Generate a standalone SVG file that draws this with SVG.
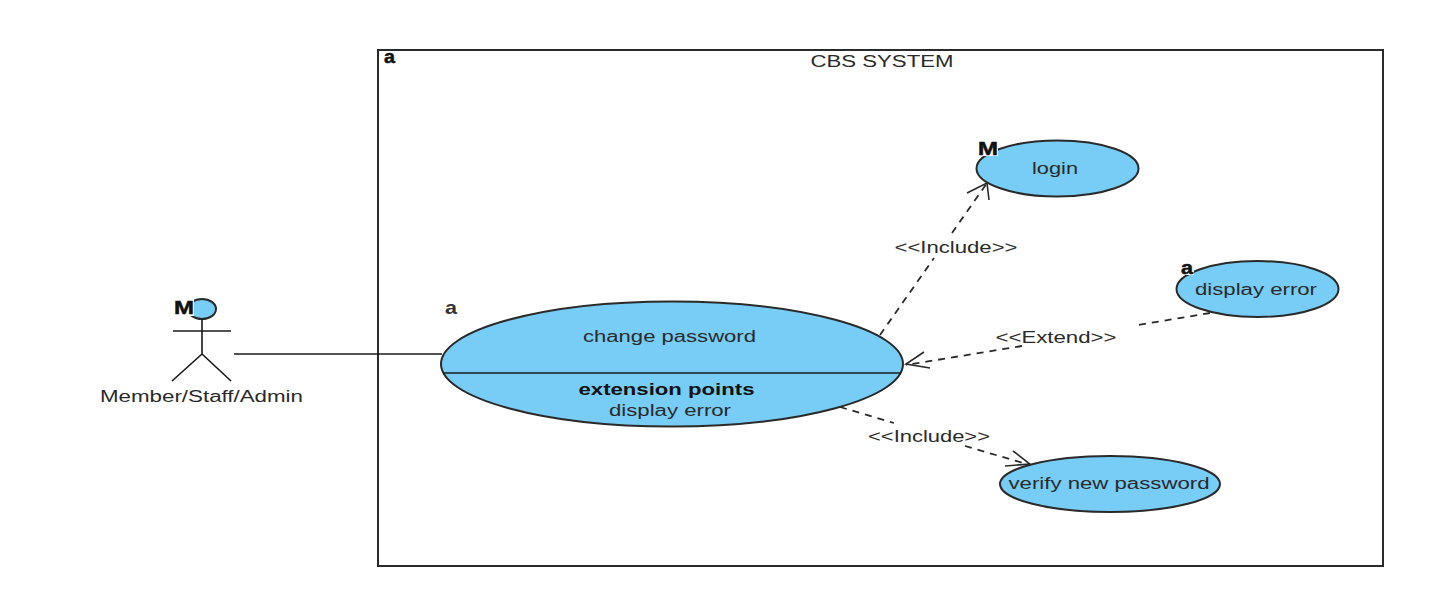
<svg xmlns="http://www.w3.org/2000/svg" width="1440" height="600" viewBox="0 0 1440 600">
<style>
text{font-family:"Liberation Sans",Arial,sans-serif;font-size:16px;fill:#2a2a2a;text-anchor:middle}
.uc{fill:#77cdf6;stroke:#2a2a2a;stroke-width:2}
.ln{fill:none;stroke:#1a1a1a;stroke-width:1.6}
.dash{fill:none;stroke:#2a2a2a;stroke-width:1.8;stroke-dasharray:7 6}
.head{fill:none;stroke:#2a2a2a;stroke-width:1.6}
.ic{font-weight:bold;fill:#111;stroke:#111;stroke-width:.5}
.halo{fill:#fff}
</style>
<rect width="1440" height="600" fill="#fff"/>
<g id="system">
<rect x="378" y="50" width="1005" height="516" fill="#fff" stroke="#2a2a2a" stroke-width="2"/>
<text x="882" y="67" textLength="143" lengthAdjust="spacingAndGlyphs">CBS SYSTEM</text>
<text class="ic" x="389.500" y="63" style="font-size:19px" textLength="11" lengthAdjust="spacingAndGlyphs">a</text>
</g>
<g id="connectors">
<path class="ln" d="M234 354H442"/>
<path class="dash" d="M880 335L934 258M952 233L987 183"/>
<path class="head" d="M967 193L987 183L989 200"/>
<path class="dash" d="M1210 313L1138 325M1022 346L906 365"/>
<path class="head" d="M924 352L906 364L930 368"/>
<path class="dash" d="M840 407L894 423M965 446L1030 465"/>
<path class="head" d="M1013 451L1030 464L1005 466"/>
</g>
<g id="actor">
<ellipse cx="202" cy="309" rx="14" ry="10" class="uc"/>
<path class="ln" d="M173 331H231M202 319V354M172 381L202 354L231 381"/>
<rect class="halo" x="174" y="299" width="20" height="17"/>
<text class="ic" x="184" y="314" style="font-size:19px" textLength="20" lengthAdjust="spacingAndGlyphs">M</text>
<text x="201.500" y="402" textLength="203" lengthAdjust="spacingAndGlyphs">Member/Staff/Admin</text>
</g>
<g id="change-password">
<text class="ic" x="451" y="314" style="font-size:19px;fill:#333;stroke:none" textLength="12" lengthAdjust="spacingAndGlyphs">a</text>
<ellipse cx="672" cy="364" rx="231" ry="62.500" class="uc"/>
<path class="ln" d="M443 373H901"/>
<text x="669.500" y="342" textLength="173" lengthAdjust="spacingAndGlyphs">change password</text>
<text x="666.500" y="395" style="font-weight:bold;fill:#111" textLength="176" lengthAdjust="spacingAndGlyphs">extension points</text>
<text x="670" y="416" textLength="122" lengthAdjust="spacingAndGlyphs">display error</text>
</g>
<g id="login">
<ellipse cx="1057.500" cy="168.500" rx="81" ry="28" class="uc"/>
<rect class="halo" x="977" y="141" width="21" height="15"/>
<text class="ic" x="988" y="155" style="font-size:18px" textLength="20" lengthAdjust="spacingAndGlyphs">M</text>
<text x="1055" y="174" textLength="46" lengthAdjust="spacingAndGlyphs">login</text>
</g>
<g id="display-error">
<ellipse cx="1257.500" cy="289" rx="81" ry="28" class="uc"/>
<rect class="halo" x="1180" y="262" width="14" height="13"/>
<text class="ic" x="1187" y="274" style="font-size:18px" textLength="12" lengthAdjust="spacingAndGlyphs">a</text>
<text x="1256" y="295" textLength="122" lengthAdjust="spacingAndGlyphs">display error</text>
</g>
<g id="verify-new-password">
<ellipse cx="1110" cy="484" rx="110" ry="28" class="uc"/>
<text x="1109" y="489" textLength="201" lengthAdjust="spacingAndGlyphs">verify new password</text>
</g>
<g id="labels">
<text x="956" y="253" textLength="123" lengthAdjust="spacingAndGlyphs">&lt;&lt;Include&gt;&gt;</text>
<text x="1056" y="343" textLength="121" lengthAdjust="spacingAndGlyphs">&lt;&lt;Extend&gt;&gt;</text>
<text x="929" y="442" textLength="122" lengthAdjust="spacingAndGlyphs">&lt;&lt;Include&gt;&gt;</text>
</g>
</svg>
